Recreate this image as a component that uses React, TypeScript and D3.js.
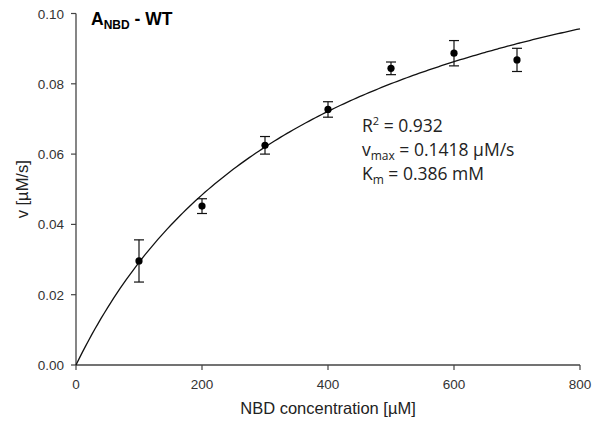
import React from "react";
import * as d3 from "d3";

const concentrations = [100, 200, 300, 400, 500, 600, 700];
const rates = [0.0296, 0.0452, 0.0625, 0.0727, 0.0844, 0.0887, 0.0868];
const errors = [0.006, 0.0021, 0.0025, 0.0022, 0.0018, 0.0036, 0.0033];
const xTicks = [0, 200, 400, 600, 800];
const yTicks = [0, 0.02, 0.04, 0.06, 0.08, 0.1];
const vmax = 0.1418;
const kmMicroM = 386;

const W = 592;
const H = 430;

export default function App() {
  const x = d3.scaleLinear().domain([0, 800]).range([76, 580]);
  const y = d3.scaleLinear().domain([0, 0.1]).range([365, 13.5]);
  const fitX = d3.range(0, 801, 5);
  const line = d3
    .line<number>()
    .x((s) => x(s))
    .y((s) => y((vmax * s) / (kmMicroM + s)))
    .curve(d3.curveMonotoneX);
  const axisColor = "#444";
  const font = "Liberation Sans, Arial, sans-serif";
  return (
    <div style={{ position: "absolute", left: 0, top: 0 }}>
      <svg width={W} height={H} style={{ display: "block", background: "#fff" }}>
        {/* axes */}
        <line x1={x(0)} x2={x(0)} y1={y(0.1)} y2={y(0)} stroke={axisColor} strokeWidth={1.3} />
        <line x1={x(0)} x2={x(800)} y1={y(0)} y2={y(0)} stroke={axisColor} strokeWidth={1.3} />
        {yTicks.map((t) => (
          <g key={"y" + t}>
            <line x1={x(0) - 5} x2={x(0)} y1={y(t)} y2={y(t)} stroke={axisColor} strokeWidth={1.2} />
            <text x={x(0) - 12} y={y(t) + 5} textAnchor="end" fontSize={13.5} fontFamily={font} fill="#333">
              {t.toFixed(2)}
            </text>
          </g>
        ))}
        {xTicks.map((t) => (
          <g key={"x" + t}>
            <line x1={x(t)} x2={x(t)} y1={y(0)} y2={y(0) + 5} stroke={axisColor} strokeWidth={1.2} />
            <text x={x(t)} y={389} textAnchor="middle" fontSize={13.5} fontFamily={font} fill="#333">
              {t}
            </text>
          </g>
        ))}
        <text x={(x(0) + x(800)) / 2} y={414} textAnchor="middle" fontSize={16.5} fontFamily={font} fill="#222">
          NBD concentration [µM]
        </text>
        <text
          transform={`translate(28, ${(y(0) + y(0.1)) / 2}) rotate(-90)`}
          textAnchor="middle"
          fontSize={16.5}
          fontFamily={font}
          fill="#222"
        >
          v [µM/s]
        </text>
        {/* fit curve */}
        <path d={line(fitX) || ""} fill="none" stroke="#111" strokeWidth={1.3} />
        {/* error bars and points */}
        {concentrations.map((c, i) => {
          const cx = x(c);
          const top = y(rates[i] + errors[i]);
          const bot = y(rates[i] - errors[i]);
          return (
            <g key={"p" + c}>
              <line x1={cx} x2={cx} y1={top} y2={bot} stroke="#111" strokeWidth={1.2} />
              <line x1={cx - 5} x2={cx + 5} y1={top} y2={top} stroke="#111" strokeWidth={1.2} />
              <line x1={cx - 5} x2={cx + 5} y1={bot} y2={bot} stroke="#111" strokeWidth={1.2} />
              <circle cx={cx} cy={y(rates[i])} r={3.6} fill="#000" />
            </g>
          );
        })}
        {/* title */}
        <text x={91} y={25} fontSize={17.5} fontWeight="bold" fontFamily={font} fill="#000">
          A
          <tspan fontSize={12} dy={4}>NBD</tspan>
          <tspan dy={-4}> - WT</tspan>
        </text>
        {/* annotation */}
        <g fontFamily="Open Sans, sans-serif" fontSize={17.5} fill="#222">
          <text x={362} y={132}>
            R<tspan fontSize={11} dy={-7}>2</tspan>
            <tspan dy={7}> = 0.932</tspan>
          </text>
          <text x={362} y={156}>
            v<tspan fontSize={12} dy={4}>max</tspan>
            <tspan dy={-4}> = 0.1418 µM/s</tspan>
          </text>
          <text x={362} y={180}>
            K<tspan fontSize={12} dy={4}>m</tspan>
            <tspan dy={-4}> = 0.386 mM</tspan>
          </text>
        </g>
      </svg>
    </div>
  );
}
